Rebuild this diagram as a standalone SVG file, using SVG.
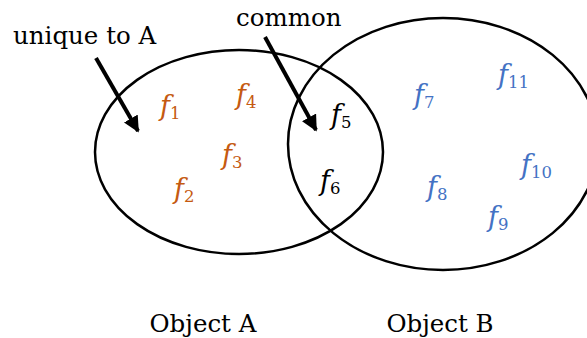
<svg xmlns="http://www.w3.org/2000/svg" width="587" height="338" viewBox="0 0 587 338">
<style>
text{font-family:'DejaVu Serif',serif}
.lbl{font-size:24.5px;fill:#000}
.f{font-size:27px;font-style:italic}
.s{font-style:normal;font-size:16.5px}
.o{fill:#c55a11}
.b{fill:#4472c4}
.k{fill:#000}
.set{fill:none;stroke:#000;stroke-width:2.5}
.arr{stroke:#000;stroke-width:4;fill:none;marker-end:url(#ah)}
</style>
<defs>
<marker id="ah" viewBox="0 0 10 10" refX="9" refY="5" markerWidth="4" markerHeight="4" markerUnits="strokeWidth" orient="auto">
<path d="M0,0 L10,5 L0,10 z" fill="#000"/>
</marker>
</defs>
<g id="objectA">
<ellipse class="set" cx="239" cy="152" rx="144" ry="102"/>
<text class="lbl" x="203" y="332" text-anchor="middle">Object A</text>
</g>
<g id="objectB">
<ellipse class="set" cx="443" cy="144" rx="155" ry="126"/>
<text class="lbl" x="440" y="332" text-anchor="middle">Object B</text>
</g>
<g id="features">
<text class="f o" x="160" y="115">f<tspan class="s" dy="4">1</tspan></text>
<text class="f o" x="236" y="104">f<tspan class="s" dy="4">4</tspan></text>
<text class="f o" x="222" y="164">f<tspan class="s" dy="4">3</tspan></text>
<text class="f o" x="174" y="198">f<tspan class="s" dy="4">2</tspan></text>
<text class="f k" x="331" y="124">f<tspan class="s" dy="4">5</tspan></text>
<text class="f k" x="320" y="190">f<tspan class="s" dy="4">6</tspan></text>
<text class="f b" x="414" y="104">f<tspan class="s" dy="4">7</tspan></text>
<text class="f b" x="498" y="84">f<tspan class="s" dy="4">11</tspan></text>
<text class="f b" x="427" y="196">f<tspan class="s" dy="4">8</tspan></text>
<text class="f b" x="521" y="174">f<tspan class="s" dy="4">10</tspan></text>
<text class="f b" x="488" y="226">f<tspan class="s" dy="4">9</tspan></text>
</g>
<g id="annotations">
<text class="lbl" x="13" y="44">unique to A</text>
<text class="lbl" x="236" y="26">common</text>
</g>
<g id="connectors">
<line class="arr" x1="96" y1="58" x2="138" y2="131"/>
<line class="arr" x1="265" y1="37" x2="316" y2="130"/>
</g>
</svg>
